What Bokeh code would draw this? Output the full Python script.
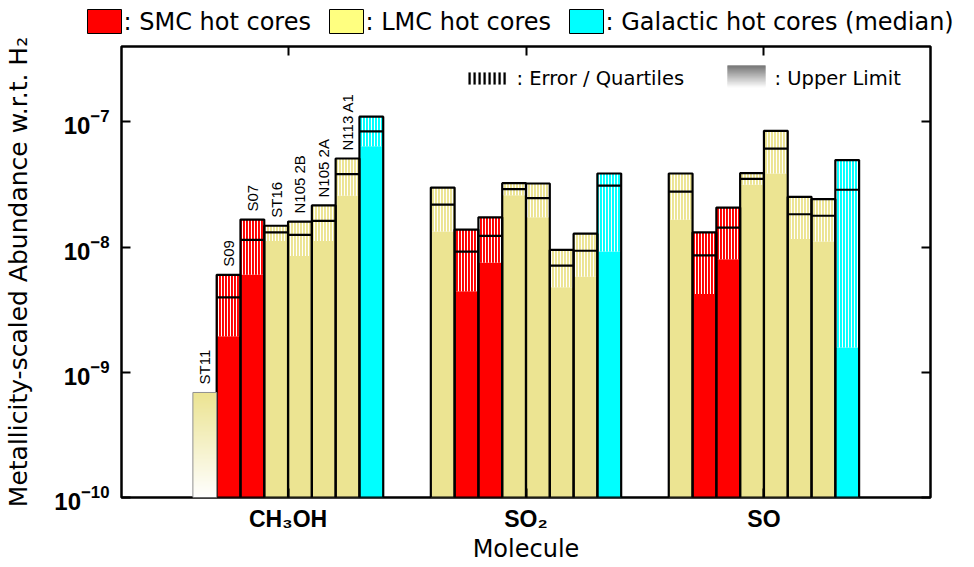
import numpy as np
from bokeh.plotting import figure
from bokeh.layouts import column
from bokeh.models import (Range1d, FixedTicker, LogAxis, LinearAxis, Label,
                          BoxAnnotation, ColumnDataSource)
from bokeh.core.properties import value
from bokeh.embed import file_html
from bokeh.resources import INLINE

# ---------------- data ----------------
MOLECULES = ["CH₃OH", "SO₂", "SO"]
SOURCES = ["ST11", "S09", "S07", "ST16", "N105 2B", "N105 2A", "N113 A1", "Galactic"]
KIND = ["LMC", "SMC", "SMC", "LMC", "LMC", "LMC", "LMC", "GAL"]

# upper end of error/quartile range, measured value (median), lower end
CH3OH_UPPER = [6.9e-10, 6.0e-9, 1.66e-8, 1.48e-8, 1.60e-8, 2.15e-8, 5.1e-8, 1.10e-7]
CH3OH_MEDIAN = [None, 3.96e-9, 1.14e-8, 1.31e-8, 1.25e-8, 1.62e-8, 3.83e-8, 8.4e-8]
CH3OH_LOWER = [None, 1.94e-9, 6.0e-9, 1.12e-8, 8.5e-9, 1.12e-8, 2.57e-8, 6.4e-8]

SO2_UPPER = [2.99e-8, 1.38e-8, 1.73e-8, 3.24e-8, 3.22e-8, 9.5e-9, 1.28e-8, 3.87e-8]
SO2_MEDIAN = [2.18e-8, 9.2e-9, 1.23e-8, 2.90e-8, 2.46e-8, 7.1e-9, 9.35e-9, 3.10e-8]
SO2_LOWER = [1.33e-8, 4.43e-9, 7.5e-9, 2.60e-8, 1.73e-8, 4.77e-9, 5.8e-9, 9.2e-9]

SO_UPPER = [3.87e-8, 1.31e-8, 2.07e-8, 3.90e-8, 8.48e-8, 2.52e-8, 2.42e-8, 4.95e-8]
SO_MEDIAN = [2.77e-8, 8.6e-9, 1.43e-8, 3.51e-8, 6.12e-8, 1.83e-8, 1.78e-8, 2.87e-8]
SO_LOWER = [1.65e-8, 4.22e-9, 8.0e-9, 3.14e-8, 3.87e-8, 1.16e-8, 1.11e-8, 1.58e-9]

LABELLED_MOLECULE = "CH₃OH"
LABELLED_SOURCES = SOURCES[:7]

Y_MIN, Y_MAX = 1e-10, 4e-7
Y_TICKS = [1e-10, 1e-9, 1e-8, 1e-7]
X_TICKS = [1, 2, 3]

LEGEND_TEXTS = [": SMC hot cores", ": LMC hot cores", ": Galactic hot cores (median)"]

# ---------------- style / layout ----------------
COLORS = {"SMC": "#ff0000", "LMC": "#ece492", "GAL": "#00ffff"}
LEGEND_COLORS = ["#ff0000", "#ffff80", "#00ffff"]
BAR_W = 0.1
VALUES = {
    "CH₃OH": (CH3OH_UPPER, CH3OH_MEDIAN, CH3OH_LOWER),
    "SO₂": (SO2_UPPER, SO2_MEDIAN, SO2_LOWER),
    "SO": (SO_UPPER, SO_MEDIAN, SO_LOWER),
}

W, H_TOTAL = 974, 567
LEG_H = 34                       # strip holding the outer legend
H = H_TOTAL - LEG_H              # main figure height
MB_L, MB_R, MB_T, MB_B = 121, 44, 12, 70

det = dict(left=[], right=[], lower=[], upper=[], median=[], color=[])
ul = dict(left=[], right=[], upper=[], color=[], x=[])
lab = dict(x=[], y=[], text=[])

for g, mol in zip(X_TICKS, MOLECULES):
    ups, meds, lows = VALUES[mol]
    n = len(SOURCES)
    for i, src in enumerate(SOURCES):
        xc = g + (i - (n - 1) / 2) * BAR_W
        col = COLORS[KIND[i]]
        if meds[i] is None:
            ul["left"].append(xc - BAR_W / 2)
            ul["right"].append(xc + BAR_W / 2)
            ul["upper"].append(ups[i])
            ul["color"].append(col)
            ul["x"].append(xc)
        else:
            det["left"].append(xc - BAR_W / 2)
            det["right"].append(xc + BAR_W / 2)
            det["lower"].append(lows[i])
            det["upper"].append(ups[i])
            det["median"].append(meds[i])
            det["color"].append(col)
        if mol == LABELLED_MOLECULE and src in LABELLED_SOURCES:
            lab["x"].append(xc)
            lab["y"].append(ups[i])
            lab["text"].append(src)

src_det = ColumnDataSource(det)
src_ul = ColumnDataSource(ul)
src_lab = ColumnDataSource(lab)

p = figure(width=W, height=H, x_range=Range1d(0.3, 3.7), y_range=Range1d(Y_MIN, Y_MAX),
           y_axis_type="log", output_backend="svg", toolbar_location=None,
           min_border_left=MB_L, min_border_right=MB_R, min_border_top=MB_T,
           min_border_bottom=MB_B)
p.frame_align = False
p.xgrid.visible = False
p.ygrid.visible = False
p.outline_line_color = "black"
p.outline_line_width = 2.5
p.outline_line_alpha = 1.0

# solid part
p.quad(left="left", right="right", bottom=Y_MIN, top="lower", source=src_det,
       fill_color="color", line_color=None)
# hatched error / quartile part
p.quad(left="left", right="right", bottom="lower", top="upper", source=src_det,
       fill_color="color", line_color=None, hatch_pattern="vertical_line",
       hatch_color="white", hatch_scale=3, hatch_weight=1.1)
# outline
p.quad(left="left", right="right", bottom=Y_MIN, top="upper", source=src_det,
       fill_color=None, line_color="black", line_width=2.2)
# median line
p.segment(x0="left", x1="right", y0="median", y1="median", source=src_det,
          line_color="black", line_width=2.2)

# upper limits: gradient fill
N = 128
for l, r, u, c in zip(ul["left"], ul["right"], ul["upper"], ul["color"]):
    rgb = np.array([int(c[1:3], 16), int(c[3:5], 16), int(c[5:7], 16)], dtype=float)
    img = np.empty((N, 1), dtype=np.uint32)
    view = img.view(dtype=np.uint8).reshape((N, 1, 4))
    for k in range(N):
        t = k / (N - 1)
        col = 255 + (rgb - 255) * t
        view[k, 0, 0:3] = col.astype(np.uint8)
        view[k, 0, 3] = 255
    p.image_rgba(image=[img], x=l, y=Y_MIN, dw=r - l, dh=u - Y_MIN)
p.quad(left="left", right="right", bottom=Y_MIN, top="upper", source=src_ul,
       fill_color=None, line_color="#909090", line_width=1)

# rotated source labels
p.text(x="x", y="y", text="text", source=src_lab, angle=np.pi / 2, text_align="left",
       text_baseline="middle", y_offset=-8, text_font=value("Liberation Sans"),
       text_font_size="15px", text_color="black")

# ---------------- axes ----------------
xa = p.xaxis[0]
xa.ticker = FixedTicker(ticks=X_TICKS)
xa.major_label_overrides = {t: m for t, m in zip(X_TICKS, MOLECULES)}
xa.major_label_text_font = "Liberation Sans"
xa.major_label_text_font_style = "bold"
xa.major_label_text_font_size = "23px"
xa.major_label_standoff = 8
xa.axis_label = "Molecule"
xa.axis_label_text_font = "DejaVu Sans"
xa.axis_label_text_font_style = "normal"
xa.axis_label_text_font_size = "24px"
xa.axis_label_standoff = 0

ya = p.yaxis[0]
ya.ticker = FixedTicker(ticks=Y_TICKS)
ya.major_label_text_font = "Liberation Sans"
ya.major_label_text_font_style = "bold"
ya.major_label_text_font_size = "24px"
ya.major_label_standoff = 12
ya.axis_label = "Metallicity-scaled Abundance w.r.t. H₂"
ya.axis_label_text_font = "DejaVu Sans"
ya.axis_label_text_font_style = "normal"
ya.axis_label_text_font_size = "25px"
ya.axis_label_standoff = 18

ra = LogAxis(ticker=FixedTicker(ticks=Y_TICKS),
             major_label_overrides={t: "" for t in Y_TICKS},
             major_label_text_font_size="2px", major_label_standoff=0)
p.add_layout(ra, "right")
ta = LinearAxis(ticker=FixedTicker(ticks=X_TICKS),
                major_label_overrides={t: "" for t in X_TICKS},
                major_label_text_font_size="2px", major_label_standoff=0)
p.add_layout(ta, "above")

for ax in [xa, ya, ra, ta]:
    ax.axis_line_color = None
    ax.major_tick_in = 9
    ax.major_tick_out = 0
    ax.major_tick_line_width = 2
    ax.major_tick_line_color = "black"
    ax.minor_tick_line_color = None
    ax.major_label_text_color = "black"
    ax.axis_label_text_color = "black"

# ---------------- inner legend (screen units relative to the frame) ----------------
FL, FB = MB_L, H_TOTAL - MB_B   # page position of frame left / bottom


def box(x0, x1, y0, y1, color):
    p.add_layout(BoxAnnotation(left=x0 - FL, right=x1 - FL, top=FB - y0, bottom=FB - y1,
                               left_units="screen", right_units="screen",
                               top_units="screen", bottom_units="screen",
                               fill_color=color, fill_alpha=1.0,
                               line_color=color, line_width=0.1, line_alpha=1.0))


def text(x, y, s, size):
    p.add_layout(Label(x=x - FL, y=FB - y, x_units="screen", y_units="screen", text=s,
                       text_font="DejaVu Sans", text_font_size=size, text_align="left",
                       text_baseline="middle", text_color="black"))


text(516, 78, ": Error / Quartiles", "19.5px")
text(774, 78, ": Upper Limit", "19.5px")
for k in range(8):
    box(468 + k * 5, 468 + k * 5 + 2.2, 72, 84, "black")
NG = 22
for k in range(NG):
    t = k / (NG - 1)
    v = int(85 + (250 - 85) * t)
    box(727, 765, 65 + k, 66 + k, "#%02x%02x%02x" % (v, v, v))

# ---------------- outer legend strip (pixel coordinates) ----------------
leg = figure(width=W, height=LEG_H, x_range=Range1d(0, W), y_range=Range1d(LEG_H, 0),
             output_backend="svg", toolbar_location=None,
             x_axis_location=None, y_axis_location=None,
             min_border_left=0, min_border_right=0, min_border_top=0, min_border_bottom=0)
leg.frame_align = False
leg.grid.visible = False
leg.outline_line_color = None
SW_X = [87, 329, 569]
SW_W, SW_TOP, SW_BOT = 34, 9, 33
leg.quad(left=SW_X, right=[x + SW_W for x in SW_X], top=[SW_TOP] * 3, bottom=[SW_BOT] * 3,
         fill_color=LEGEND_COLORS, line_color="black", line_width=1)
leg.text(x=[x + SW_W + 2 for x in SW_X], y=[(SW_TOP + SW_BOT) / 2] * 3, text=LEGEND_TEXTS,
         text_align="left", text_baseline="middle", text_font=value("DejaVu Sans"),
         text_font_size="24px", text_color="black")

layout = column(leg, p, spacing=0)
open("out.html", "w").write(file_html(layout, INLINE))
